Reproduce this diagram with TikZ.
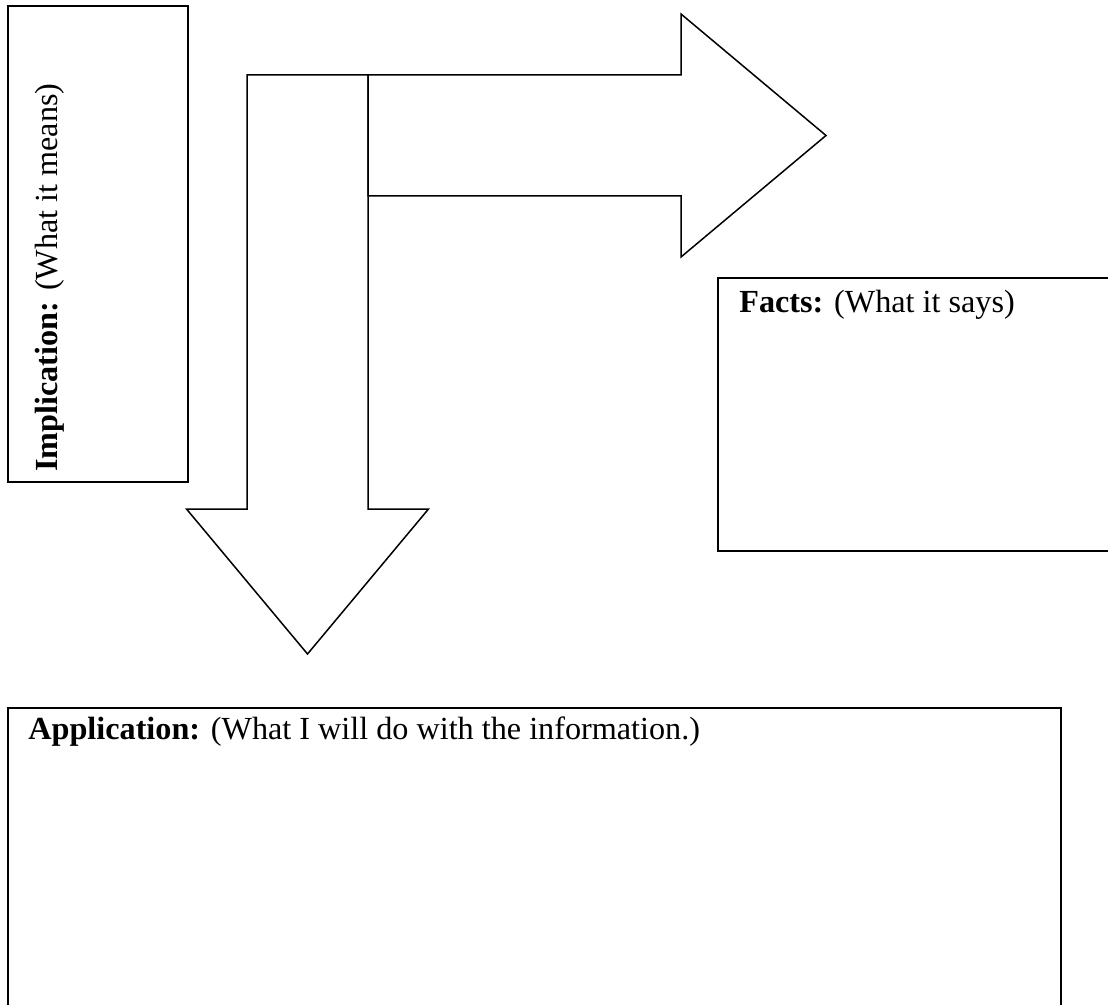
\documentclass[tikz,border=0pt]{standalone}
\usepackage{fontspec}
\setmainfont{Liberation Serif}
\usetikzlibrary{positioning,calc}
\tikzset{
  %Define style for boxes
  boks/.style={
    rectangle,
    draw=black, line width=1pt,
    anchor=north west,
    inner sep=0pt},
  %Define style for box titles
  titel/.style={
    anchor=base west,
    inner sep=0pt,
    font=\fontsize{16.1}{19}\selectfont},
  % Define style for block arrows
  blokpil/.style={
    draw=black,
    line width=0.75pt,
    line join=miter}
}
\begin{document}
\begin{tikzpicture}[x=0.5pt,y=-0.5pt]
    \useasboundingbox (0,0) rectangle (1108,1005);
    \clip (0,0) rectangle (1108,1005);
    % boxes
    \node[boks, minimum width=90pt, minimum height=238pt] (implication) at (7,5) {};
    \node[boks, minimum width=220pt, minimum height=136.5pt] (facts) at (717,277) {};
    \node[boks, minimum width=526.5pt, minimum height=160pt] (application) at (7,707) {};
    \node[titel, rotate=90] (implicationtext) at ([xshift=25pt,yshift=5.5pt]implication.south west)
      {\textbf{Implication:} (What it means)};
    \node[titel] (factstext) at ([xshift=11pt,yshift=-18pt]facts.north west)
      {\textbf{Facts:} (What it says)};
    \node[titel] (applicationtext) at ([xshift=10.5pt,yshift=-16pt]application.north west)
      {\textbf{Application:} (What I will do with the information.)};
    % arrows
    \coordinate (split) at (368,75);
    \draw[blokpil] (247,75) -- (split) -- (368,509) -- (428.5,509) -- (307.5,654)
      -- (186.5,509) -- (247,509) -- cycle;
    \draw[blokpil] (split) -- (681,75) -- (681,14) -- (826,135.5) -- (681,257)
      -- (681,196) -- (368,196) -- cycle;
  \end{tikzpicture}
\end{document}
